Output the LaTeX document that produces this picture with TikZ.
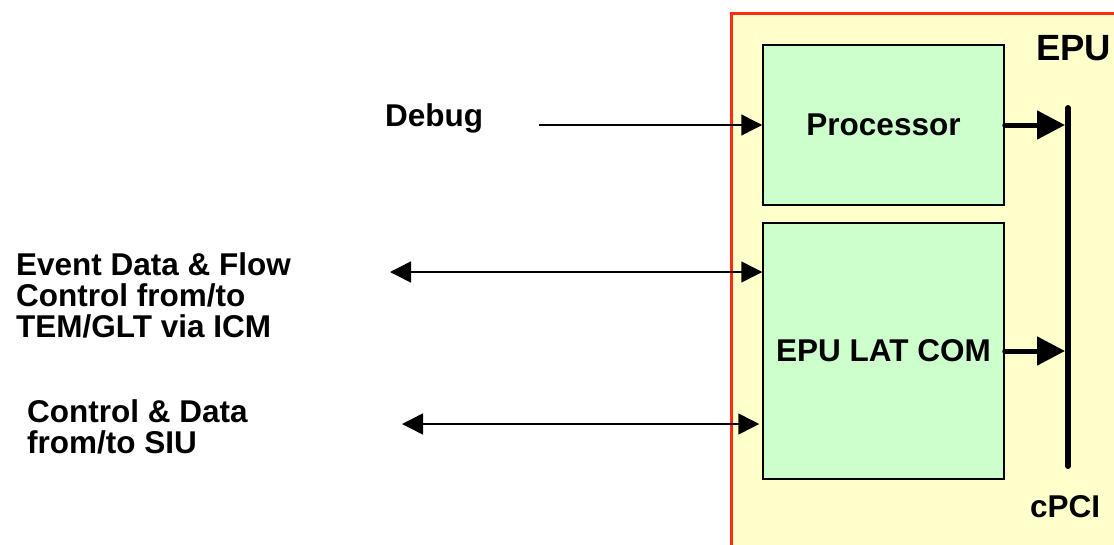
\documentclass[tikz,border=0pt]{standalone}
\usepackage{fontspec}
\setmainfont{Liberation Sans}
\usetikzlibrary{arrows.meta}
\definecolor{epuyellow}{HTML}{FFFFCC}
\definecolor{epured}{HTML}{FF2A14}
\definecolor{blockgreen}{HTML}{CCFFCC}
\begin{document}
\begin{tikzpicture}[x=1pt,y=-1pt,
  lbl/.style={font=\fontsize{31.5}{31}\selectfont\bfseries, inner sep=0pt},
  block/.style={draw=black, line width=1.5pt, fill=blockgreen, inner sep=0pt,
                minimum width=241pt, font=\fontsize{31.5}{31}\selectfont\bfseries},
  link/.style={line width=1.5pt, -{Triangle[length=21pt,width=21pt]}},
  duplex/.style={line width=1.5pt, {Triangle[length=21pt,width=21pt]}-{Triangle[length=21pt,width=21pt]}},
  busarrow/.style={line width=5pt, line cap=round, -{Triangle[length=28pt,width=28pt]}, shorten >=3pt},
  busline/.style={line width=6pt, line cap=round}]
\useasboundingbox (0,0) rectangle (1114,544);

% EPU crate, running off the right and bottom edges
\begin{scope}
  \clip (0,0) rectangle (1114,544);
  \draw[epured, line width=3.5pt, fill=epuyellow] (731.5,13.5) rectangle (1116,560);
\end{scope}
\node[lbl, font=\fontsize{36.5}{36}\selectfont\bfseries, anchor=base west] (epu) at (1036,60) {EPU};

% boards inside the crate
\node[block, minimum height=160pt] (proc) at (883.5,125) {Processor};
\node[block, minimum height=256pt] (lat) at (883.5,351) {EPU LAT COM};

% cPCI backplane bus
\coordinate (busTop) at (1068,108);
\coordinate (busBot) at (1068,466);
\draw[busline] (busTop) -- (busBot);
\node[lbl, anchor=base west] (cpci) at (1030,517) {cPCI};
\draw[busarrow] (proc.east) -- (proc.east -| busTop);
\draw[busarrow] (lat.east) -- (lat.east -| busTop);

% external interfaces (multi-line labels are placed by their last baseline)
\node[lbl, anchor=base west] (debug) at (385,126) {Debug};
\node[lbl, anchor=base west, align=left] (evt) at (16,337)
  {Event Data \& Flow\\Control from/to\\TEM/GLT via ICM};
\node[lbl, anchor=base west, align=left] (ctl) at (27,453)
  {Control \& Data\\from/to SIU};

\coordinate (dbgSrc) at (539,125);
\coordinate (evtEnd) at (390,272);
\coordinate (ctlEnd) at (402,424);
\draw[link] (dbgSrc) -- (proc.west);
\draw[duplex] (evtEnd) -- (evtEnd -| lat.west);
\draw[duplex, shorten >=3pt] (ctlEnd) -- (ctlEnd -| lat.west);
\end{tikzpicture}
\end{document}
